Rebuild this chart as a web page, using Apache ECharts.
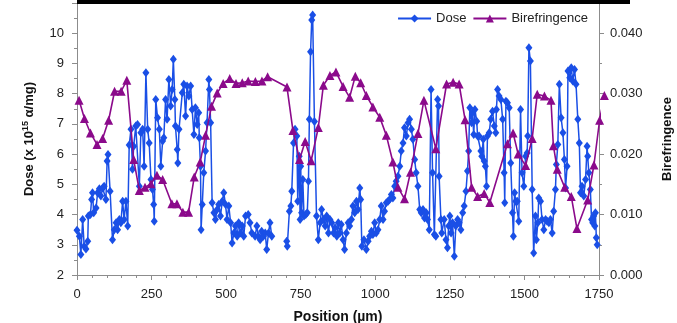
<!DOCTYPE html>
<html>
<head>
<meta charset="utf-8">
<script src="https://cdn.jsdelivr.net/npm/echarts@6/dist/echarts.min.js"></script>
<style>
html,body{margin:0;padding:0;background:#fff;}
#chart{width:677px;height:323px;}
</style>
</head>
<body>
<div id="chart"></div>
<script>
// Position (µm) and Dose (x 10^15 α/mg); null marks the gap in the dose trace
const dosePos = [0,8,13,19,24,30,36,38,45,49,52,56,64,69,75,80,86,91,97,101,104,111,119,125,131,136,142,147,153,158,164,170,175,181,186,190,197,203,209,214,220,225,231,237,242,248,253,257,259,264,270,276,281,287,291,297,302,308,314,319,323,328,330,336,338,342,353,358,364,369,375,381,386,392,397,403,408,410,414,416,420,425,431,436,442,444,448,453,459,464,470,475,481,487,492,498,503,509,515,520,526,531,537,542,548,554,559,565,574,580,586,597,603,608,614,619,625,631,636,642,647,653,678,703,705,712,717,720,726,731,737,740,745,748,750,753,757,761,767,772,776,779,783,787,790,796,803,809,815,820,826,832,837,843,848,854,860,865,871,876,881,886,892,897,903,909,914,920,925,931,937,942,948,951,955,962,970,976,981,987,992,998,1003,1009,1015,1020,1026,1031,1037,1043,1048,1054,1059,1065,1070,1076,1082,1087,1093,1098,1104,1110,1115,1121,1126,1132,1137,1143,1149,1154,1160,1165,1171,1175,1181,1187,1192,1198,1203,1209,1212,1214,1220,1223,1231,1237,1242,1246,1250,1254,1259,1265,1270,1276,1281,1287,1293,1298,1304,1309,1313,1317,1323,1326,1330,1334,1340,1343,1348,1354,1357,1362,1365,1369,1373,1376,1382,1387,1393,1399,1404,1406,1410,1415,1421,1427,1432,1434,1438,1443,1449,1454,1460,1463,1467,1471,1476,1481,1487,1492,1498,1504,1509,1511,1515,1520,1526,1531,1537,1540,1545,1548,1554,1559,1565,1571,1576,1582,1587,1593,1598,1604,1607,1612,1617,1623,1629,1634,1638,1643,1646,1652,1657,1662,1668,1673,1679,1684,1688,1693,1699,1705,1710,1712,1716,1721,1725,1729,1732,1736,1738,1741,1744];
const doseVal = [3.48,3.28,2.68,3.84,2.95,2.86,3.12,3.95,4.00,4.50,4.72,4.06,4.22,4.72,4.85,4.61,4.88,4.94,4.50,5.77,5.99,4.77,3.17,3.50,3.73,3.50,3.84,3.73,4.44,3.84,4.44,3.62,6.30,6.82,5.50,6.26,6.93,6.98,4.94,6.71,6.82,5.60,8.69,6.82,6.37,5.16,4.83,4.33,3.78,7.81,7.20,6.82,5.60,6.43,6.54,7.81,7.15,8.47,7.59,8.14,9.14,7.81,6.93,6.15,5.71,6.82,8.03,8.31,7.26,8.25,7.92,8.25,7.48,6.65,7.53,6.98,7.37,6.54,5.60,3.50,4.33,5.38,6.10,7.04,8.47,8.14,7.04,4.39,4.06,3.84,4.17,4.33,3.95,4.44,4.72,4.33,3.84,4.28,3.73,3.06,3.39,3.62,3.28,3.73,3.39,3.62,3.28,3.95,4.00,3.73,3.39,3.28,3.62,3.28,3.17,3.45,3.28,3.39,2.84,3.39,3.73,3.28,null,3.12,2.95,4.11,4.28,4.77,6.37,6.82,6.60,4.44,5.93,3.84,5.60,4.06,5.16,3.95,4.00,4.06,5.10,7.15,9.39,10.44,10.60,7.08,3.95,3.17,3.73,4.17,3.84,3.62,3.95,3.39,3.84,3.73,3.39,3.56,3.28,3.73,3.39,3.67,3.17,2.84,3.39,3.73,3.62,3.84,4.28,4.06,4.44,4.17,4.88,4.50,2.95,3.17,2.84,3.12,3.28,3.45,3.34,3.73,3.39,3.50,3.84,4.28,3.84,4.11,4.39,4.44,4.50,4.66,4.55,4.94,5.10,5.27,5.60,6.10,6.37,6.87,6.60,7.04,7.15,6.82,6.49,5.82,5.38,4.94,4.17,4.06,4.17,3.89,4.06,3.84,3.50,8.14,5.38,3.34,3.28,7.81,7.59,5.27,3.84,3.39,3.84,3.17,2.90,3.62,3.95,3.39,3.73,2.62,3.62,3.84,3.73,3.50,4.06,4.28,4.77,5.44,6.10,7.53,7.04,7.37,6.65,7.48,7.09,6.60,6.60,6.10,5.93,6.49,5.77,5.60,4.94,6.60,6.71,7.15,7.42,6.93,6.71,7.48,8.14,7.92,7.81,7.15,5.38,4.39,7.75,7.70,7.53,5.71,4.06,3.28,4.72,4.44,4.44,3.78,7.48,5.38,4.94,5.93,6.04,6.60,9.52,9.08,4.83,2.73,3.95,3.17,3.73,4.55,4.44,3.84,3.50,3.84,3.78,3.73,3.84,3.39,4.11,4.83,5.66,6.32,8.31,7.20,6.71,5.82,4.88,5.60,8.75,8.53,8.86,8.42,8.80,8.31,7.15,6.37,4.72,4.94,4.61,5.16,6.26,5.93,5.38,4.83,3.84,3.73,3.95,3.62,4.06,3.23,3.00];

// Position (µm) and Birefringence
const birPos = [7,25,45,67,86,106,126,148,167,190,209,228,248,268,287,318,335,355,374,393,413,431,451,470,490,512,533,554,574,598,620,639,704,724,746,765,785,809,826,848,868,892,914,933,951,970,992,1015,1037,1059,1076,1098,1118,1143,1163,1203,1239,1261,1281,1301,1323,1343,1365,1384,1443,1462,1479,1504,1526,1543,1567,1589,1597,1610,1635,1657,1676,1712,1733,1752,1768];
const birVal = [0.0289,0.0259,0.0235,0.0216,0.0226,0.0256,0.0304,0.0304,0.0322,0.0191,0.0140,0.0145,0.0151,0.0165,0.0158,0.0118,0.0118,0.0104,0.0104,0.0162,0.0187,0.0231,0.0279,0.0301,0.0317,0.0325,0.0317,0.0318,0.0321,0.0320,0.0321,0.0328,0.0311,0.0239,0.0191,0.0221,0.0189,0.0244,0.0314,0.0330,0.0336,0.0312,0.0294,0.0329,0.0318,0.0297,0.0278,0.0261,0.0231,0.0187,0.0145,0.0126,0.0170,0.0234,0.0289,0.0209,0.0316,0.0319,0.0316,0.0257,0.0145,0.0130,0.0135,0.0120,0.0217,0.0235,0.0200,0.0181,0.0226,0.0299,0.0296,0.0289,0.0214,0.0175,0.0145,0.0130,0.0077,0.0124,0.0182,0.0256,0.0297];

const xMin = 0, xMax = 1750, xStep = 250;
const doseMin = 2, doseMax = 11, doseStep = 1;
const birMin = 0, birMax = 0.045, birStep = 0.01;

const doseData = dosePos.map((p, i) => [p, doseVal[i] === null ? '-' : doseVal[i]]);
const birData = birPos.map((p, i) => [p, birVal[i]]);

const FONT = 'Liberation Sans, Arial, sans-serif';
const axisLineStyle = {color: '#8c8c8c', width: 1};
const chart = echarts.init(document.getElementById('chart'), null, {renderer: 'canvas'});
chart.setOption({
  animation: false,
  backgroundColor: '#ffffff',
  textStyle: {fontFamily: FONT},
  grid: {left: 77, right: 78, top: 3, bottom: 48, containLabel: false, outerBoundsMode: 'none'},
  legend: {
    right: 84, top: 7,
    itemWidth: 33, itemHeight: 10, itemGap: 6,
    textStyle: {fontFamily: FONT, fontSize: 13, color: '#222'},
    data: ['Dose', 'Birefringence']
  },
  xAxis: {
    type: 'value', min: xMin, max: xMax, interval: xStep,
    name: 'Position (\u00b5m)', nameLocation: 'middle', nameGap: 35,
    nameTextStyle: {fontFamily: FONT, fontSize: 14, fontWeight: 'bold', color: '#111'},
    axisLine: {show: true, lineStyle: axisLineStyle},
    axisTick: {show: true, length: 5, lineStyle: axisLineStyle},
    minorTick: {show: true, splitNumber: 5, length: 3, lineStyle: axisLineStyle},
    axisLabel: {fontFamily: FONT, fontSize: 13, color: '#222', margin: 13,
      formatter: v => String(v)},
    splitLine: {show: false}
  },
  yAxis: [{
    type: 'value', min: doseMin, max: doseMax, interval: doseStep, position: 'left',
    name: 'Dose (x 10{sup|15} \u03b1/mg)', nameLocation: 'middle', nameGap: 40, nameRotate: 90,
    nameTextStyle: {fontFamily: FONT, fontSize: 13, fontWeight: 'bold', color: '#111', lineHeight: 16,
      rich: {sup: {fontFamily: FONT, fontSize: 9, fontWeight: 'bold', color: '#111', verticalAlign: 'top', lineHeight: 16}}},
    axisLine: {show: true, lineStyle: axisLineStyle},
    axisTick: {show: true, length: 5, lineStyle: axisLineStyle},
    minorTick: {show: true, splitNumber: 2, length: 3, lineStyle: axisLineStyle},
    axisLabel: {fontFamily: FONT, fontSize: 13, color: '#222', margin: 13,
      formatter: v => (v >= doseMax ? '' : String(v))},
    splitLine: {show: false}
  }, {
    type: 'value', min: birMin, max: birMax, interval: birStep, position: 'right',
    name: 'Birefringence', nameLocation: 'middle', nameGap: 62, nameRotate: 90,
    nameTextStyle: {fontFamily: FONT, fontSize: 13, fontWeight: 'bold', color: '#111'},
    axisLine: {show: true, lineStyle: axisLineStyle},
    axisTick: {show: true, length: 5, lineStyle: axisLineStyle},
    minorTick: {show: true, splitNumber: 2, length: 3, lineStyle: axisLineStyle},
    axisLabel: {fontFamily: FONT, fontSize: 13, color: '#222', margin: 11,
      formatter: v => (v > birMax - 1e-9 ? '' : v.toFixed(3))},
    splitLine: {show: false}
  }],
  graphic: [{type: 'rect', left: 77, top: 0, shape: {width: 553, height: 4}, style: {fill: '#000'}, z: 100}],
  series: [{
    name: 'Dose', type: 'line', yAxisIndex: 0, data: doseData,
    connectNulls: false,
    symbol: 'diamond', symbolSize: [7, 9], showAllSymbol: true,
    lineStyle: {color: '#1a4fe6', width: 1.5},
    itemStyle: {color: '#1a4fe6'},
    z: 2
  }, {
    name: 'Birefringence', type: 'line', yAxisIndex: 1, data: birData,
    clip: false,
    symbol: 'triangle', symbolSize: 9, showAllSymbol: true,
    lineStyle: {color: '#8b0a8b', width: 1.6},
    itemStyle: {color: '#8b0a8b'},
    z: 3
  }]
});
</script>
</body>
</html>
